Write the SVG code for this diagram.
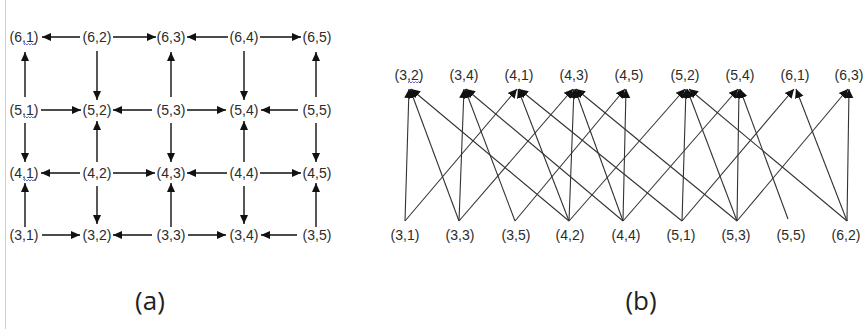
<svg xmlns="http://www.w3.org/2000/svg" width="864" height="329" viewBox="0 0 864 329">
<defs>
<style>
.t{font-family:"Liberation Sans",Arial,sans-serif;font-size:14px;fill:#2b2b2b;text-anchor:middle;dominant-baseline:central}
.cap{font-family:"Open Sans","Liberation Sans",sans-serif;font-size:26px;fill:#222;text-anchor:middle;dominant-baseline:central}
.a{stroke:#111;stroke-width:1.4;fill:none;marker-end:url(#ha)}
.b{stroke:#333;stroke-width:1.1;fill:none;marker-end:url(#hb)}
.sq{stroke:#5a5ad0;stroke-width:0.9;fill:none}
</style>
<marker id="ha" markerUnits="userSpaceOnUse" markerWidth="10" markerHeight="8" refX="9" refY="4" orient="auto"><path d="M0,0 L9,4 L0,8 Z" fill="#111"/></marker>
<marker id="hb" markerUnits="userSpaceOnUse" markerWidth="10" markerHeight="10" refX="9" refY="5" orient="auto"><path d="M0,0.5 L9,5 L0,9.5 Z" fill="#111"/></marker>
</defs>
<rect width="864" height="329" fill="#fff"/>
<line x1="5.5" y1="0" x2="5.5" y2="329" stroke="#d0d0d0" stroke-width="1"/>

<g id="grid-nodes">
<g id="a61"><text class="t" x="24" y="37">(6,1)</text></g>
<g id="a62"><text class="t" x="97" y="37">(6,2)</text></g>
<g id="a63"><text class="t" x="171" y="37">(6,3)</text></g>
<g id="a64"><text class="t" x="244" y="37">(6,4)</text></g>
<g id="a65"><text class="t" x="317" y="37">(6,5)</text></g>
<g id="a51"><text class="t" x="24" y="110">(5,1)</text></g>
<g id="a52"><text class="t" x="97" y="110">(5,2)</text></g>
<g id="a53"><text class="t" x="171" y="110">(5,3)</text></g>
<g id="a54"><text class="t" x="244" y="110">(5,4)</text></g>
<g id="a55"><text class="t" x="317" y="110">(5,5)</text></g>
<g id="a41"><text class="t" x="24" y="173">(4,1)</text></g>
<g id="a42"><text class="t" x="97" y="173">(4,2)</text></g>
<g id="a43"><text class="t" x="171" y="173">(4,3)</text></g>
<g id="a44"><text class="t" x="244" y="173">(4,4)</text></g>
<g id="a45"><text class="t" x="317" y="173">(4,5)</text></g>
<g id="a31"><text class="t" x="24" y="235">(3,1)</text></g>
<g id="a32"><text class="t" x="97" y="235">(3,2)</text></g>
<g id="a33"><text class="t" x="171" y="235">(3,3)</text></g>
<g id="a34"><text class="t" x="244" y="235">(3,4)</text></g>
<g id="a35"><text class="t" x="317" y="235">(3,5)</text></g>
</g>

<g id="squiggles">
<path class="sq" d="M24,45 l1.5,-1.5 l1.5,1.5 l1.5,-1.5 l1.5,1.5 l1.5,-1.5 l1.5,1.5 l1.5,-1.5 l1.5,1.5"/>
<path class="sq" d="M24,118 l1.5,-1.5 l1.5,1.5 l1.5,-1.5 l1.5,1.5 l1.5,-1.5 l1.5,1.5 l1.5,-1.5 l1.5,1.5"/>
<path class="sq" d="M24,181 l1.5,-1.5 l1.5,1.5 l1.5,-1.5 l1.5,1.5 l1.5,-1.5 l1.5,1.5 l1.5,-1.5 l1.5,1.5"/>
<path class="sq" d="M408,83 l1.5,-1.5 l1.5,1.5 l1.5,-1.5 l1.5,1.5 l1.5,-1.5 l1.5,1.5 l1.5,-1.5 l1.5,1.5 l1.5,-1.5"/>
</g>

<g id="grid-connectors">
<line class="a" x1="80" y1="37" x2="42" y2="37"/>
<line class="a" x1="113" y1="37" x2="156" y2="37"/>
<line class="a" x1="228" y1="37" x2="187" y2="37"/>
<line class="a" x1="260" y1="37" x2="301" y2="37"/>
<line class="a" x1="41" y1="110" x2="81" y2="110"/>
<line class="a" x1="152" y1="110" x2="113" y2="110"/>
<line class="a" x1="187" y1="110" x2="226" y2="110"/>
<line class="a" x1="298" y1="110" x2="261" y2="110"/>
<line class="a" x1="80" y1="173" x2="41" y2="173"/>
<line class="a" x1="113" y1="173" x2="155" y2="173"/>
<line class="a" x1="227" y1="173" x2="187" y2="173"/>
<line class="a" x1="260" y1="173" x2="301" y2="173"/>
<line class="a" x1="42" y1="235" x2="80" y2="235"/>
<line class="a" x1="152" y1="235" x2="113" y2="235"/>
<line class="a" x1="188" y1="235" x2="226" y2="235"/>
<line class="a" x1="297" y1="235" x2="261" y2="235"/>
<line class="a" x1="25" y1="97" x2="25" y2="52"/>
<line class="a" x1="97" y1="51" x2="97" y2="100"/>
<line class="a" x1="171" y1="97" x2="171" y2="52"/>
<line class="a" x1="244" y1="51" x2="244" y2="100"/>
<line class="a" x1="316" y1="97" x2="316" y2="52"/>
<line class="a" x1="25" y1="123" x2="25" y2="162"/>
<line class="a" x1="97" y1="162" x2="97" y2="121"/>
<line class="a" x1="171" y1="123" x2="171" y2="162"/>
<line class="a" x1="244" y1="162" x2="244" y2="121"/>
<line class="a" x1="316" y1="123" x2="316" y2="162"/>
<line class="a" x1="25" y1="227" x2="25" y2="183"/>
<line class="a" x1="97" y1="186" x2="97" y2="224"/>
<line class="a" x1="171" y1="227" x2="171" y2="183"/>
<line class="a" x1="244" y1="186" x2="244" y2="224"/>
<line class="a" x1="316" y1="227" x2="316" y2="183"/>
</g>

<g id="bip-nodes">
<g id="b32"><text class="t" x="409" y="75">(3,2)</text></g>
<g id="b34"><text class="t" x="464" y="75">(3,4)</text></g>
<g id="b41"><text class="t" x="519" y="75">(4,1)</text></g>
<g id="b43"><text class="t" x="574" y="75">(4,3)</text></g>
<g id="b45"><text class="t" x="629" y="75">(4,5)</text></g>
<g id="b52"><text class="t" x="685" y="75">(5,2)</text></g>
<g id="b54"><text class="t" x="740" y="75">(5,4)</text></g>
<g id="b61"><text class="t" x="795" y="75">(6,1)</text></g>
<g id="b63"><text class="t" x="849" y="75">(6,3)</text></g>
<g id="b31"><text class="t" x="405" y="235">(3,1)</text></g>
<g id="b33"><text class="t" x="460" y="235">(3,3)</text></g>
<g id="b35"><text class="t" x="516" y="235">(3,5)</text></g>
<g id="b42"><text class="t" x="570" y="235">(4,2)</text></g>
<g id="b44"><text class="t" x="626" y="235">(4,4)</text></g>
<g id="b51"><text class="t" x="681" y="235">(5,1)</text></g>
<g id="b53"><text class="t" x="736" y="235">(5,3)</text></g>
<g id="b55"><text class="t" x="791" y="235">(5,5)</text></g>
<g id="b62"><text class="t" x="846" y="235">(6,2)</text></g>
</g>

<g id="bip-connectors">
<line class="b" x1="405" y1="221" x2="409" y2="89"/>
<line class="b" x1="405" y1="221" x2="517" y2="89"/>
<line class="b" x1="459" y1="221" x2="410" y2="89"/>
<line class="b" x1="459" y1="221" x2="464" y2="89"/>
<line class="b" x1="459" y1="221" x2="573" y2="89"/>
<line class="b" x1="515" y1="221" x2="465" y2="89"/>
<line class="b" x1="515" y1="221" x2="625" y2="89"/>
<line class="b" x1="569" y1="221" x2="518" y2="89"/>
<line class="b" x1="569" y1="221" x2="574" y2="89"/>
<line class="b" x1="569" y1="221" x2="685" y2="89"/>
<line class="b" x1="569" y1="221" x2="411" y2="89"/>
<line class="b" x1="623" y1="221" x2="575" y2="89"/>
<line class="b" x1="623" y1="221" x2="626" y2="89"/>
<line class="b" x1="623" y1="221" x2="738" y2="89"/>
<line class="b" x1="623" y1="221" x2="466" y2="89"/>
<line class="b" x1="682" y1="221" x2="686" y2="89"/>
<line class="b" x1="682" y1="221" x2="794" y2="89"/>
<line class="b" x1="682" y1="221" x2="519" y2="89"/>
<line class="b" x1="737" y1="221" x2="687" y2="89"/>
<line class="b" x1="737" y1="221" x2="739" y2="89"/>
<line class="b" x1="737" y1="221" x2="848" y2="89"/>
<line class="b" x1="737" y1="221" x2="576" y2="89"/>
<line class="b" x1="788" y1="219" x2="740" y2="89"/>
<line class="b" x1="847" y1="221" x2="796" y2="89"/>
<line class="b" x1="847" y1="221" x2="849" y2="89"/>
<line class="b" x1="847" y1="221" x2="689" y2="89"/>
</g>

<g id="captions">
<text class="cap" x="150" y="300">(a)</text>
<text class="cap" x="641" y="300">(b)</text>
</g>
</svg>
